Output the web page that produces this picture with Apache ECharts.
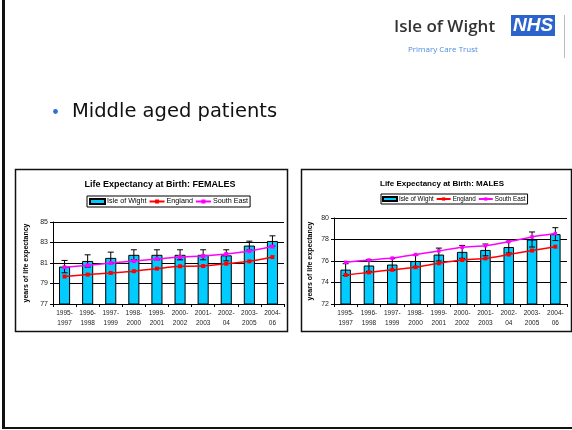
<!DOCTYPE html>
<html>
<head>
<meta charset="utf-8">
<script src="https://cdn.jsdelivr.net/npm/echarts@6/dist/echarts.min.js"></script>
<style>
html,body{margin:0;padding:0;background:#fff;}
#c{width:572px;height:430px;}
</style>
</head>
<body>
<div id="c"></div>
<script>
var categories = ['1995-\n1997','1996-\n1998','1997-\n1999','1998-\n2000','1999-\n2001','2000-\n2002','2001-\n2003','2002-\n04','2003-\n2005','2004-\n06'];

var femaleIOW = [80.65,81.2,81.5,81.8,81.8,81.8,81.8,81.75,82.7,83.15];
var femaleIOWErr = [0.6,0.6,0.56,0.49,0.49,0.49,0.49,0.54,0.43,0.5];
var femaleEngland = [79.68,79.87,80.03,80.2,80.45,80.68,80.7,80.93,81.16,81.58];
var femaleSE = [80.58,80.77,81.0,81.19,81.39,81.58,81.68,81.87,82.16,82.6];

var maleIOW = [75.2,75.58,75.67,76.0,76.6,76.85,77.03,77.3,78.0,78.5];
var maleIOWErr = [0.55,0.55,0.55,0.55,0.6,0.6,0.55,0.55,0.7,0.6];
var maleEngland = [74.7,74.94,75.18,75.42,75.79,76.09,76.24,76.6,76.97,77.33];
var maleSE = [75.88,76.09,76.27,76.6,76.94,77.27,77.42,77.8,78.24,78.55];

var femaleTicks = [77,85,2];
var maleTicks = [72,80,2];

var chart = echarts.init(document.getElementById('c'), null, {renderer:'canvas'});

function errData(vals, errs){
  return vals.map(function(v,i){ return [i, v, v-errs[i], v+errs[i]]; });
}
function errRender(params, api){
  var i = api.value(0);
  var lo = api.coord([i, api.value(2)]);
  var hi = api.coord([i, api.value(3)]);
  var cap = 3;
  var st = {stroke:'#000', lineWidth:1};
  return {type:'group', children:[
    {type:'line', shape:{x1:lo[0],y1:lo[1],x2:hi[0],y2:hi[1]}, style:st},
    {type:'line', shape:{x1:lo[0]-cap,y1:lo[1],x2:lo[0]+cap,y2:lo[1]}, style:st},
    {type:'line', shape:{x1:hi[0]-cap,y1:hi[1],x2:hi[0]+cap,y2:hi[1]}, style:st}
  ]};
}

var FF = 'Liberation Sans, Arial, sans-serif';
var legendData = [{name:'Isle of Wight', icon:'rect'}, {name:'England'}, {name:'South East'}];

function xAxisCfg(gi){
  return {
    type:'category', gridIndex:gi, data:categories, boundaryGap:true,
    axisLine:{lineStyle:{color:'#000', width:1}},
    axisTick:{show:true, length:3, lineStyle:{color:'#000'}},
    axisLabel:{fontSize:6.5, lineHeight:10, color:'#222', margin:4, fontFamily:FF, interval:0},
    splitLine:{show:false}
  };
}
function yAxisCfg(gi, t, gap){
  return {
    type:'value', gridIndex:gi, min:t[0], max:t[1], interval:t[2],
    name:'years of life expectancy', nameLocation:'middle', nameGap:gap,
    nameTextStyle:{fontSize:7, fontWeight:'bold', color:'#000', fontFamily:FF},
    axisLine:{show:true, lineStyle:{color:'#000', width:1}},
    axisTick:{show:true, length:3, lineStyle:{color:'#000'}},
    axisLabel:{fontSize:7, color:'#222', margin:5, fontFamily:FF},
    splitLine:{show:true, lineStyle:{color:'#000', width:1}}
  };
}

var option = {
  animation:false,
  backgroundColor:'#fff',
  title:[
    {text:'Life Expectancy at Birth: FEMALES', left:155, top:175, textAlign:'center',
     textStyle:{fontSize:9, fontWeight:'bold', color:'#000', fontFamily:FF}},
    {text:'Life Expectancy at Birth: MALES', left:437, top:175, textAlign:'center',
     textStyle:{fontSize:8, fontWeight:'bold', color:'#000', fontFamily:FF}}
  ],
  legend:[
    {left:87, top:196, itemWidth:15, itemHeight:5, itemGap:2, padding:[2,2,2,2],
     borderColor:'#000', borderWidth:1, data:legendData,
     textStyle:{fontSize:7.2, color:'#000', fontFamily:FF, padding:[0,0,0,-3]}},
    {left:381, top:194, itemWidth:14, itemHeight:4, itemGap:2, padding:[2,2,2,1],
     borderColor:'#000', borderWidth:1, data:legendData,
     textStyle:{fontSize:6.3, color:'#000', fontFamily:FF, padding:[0,0,0,-3]}}
  ],
  grid:[
    {left:53, top:222, width:231, height:82},
    {left:334, top:218, width:233, height:86}
  ],
  xAxis:[xAxisCfg(0), xAxisCfg(1)],
  yAxis:[yAxisCfg(0, femaleTicks, 23), yAxisCfg(1, maleTicks, 20)],
  graphic:[
    {type:'line', shape:{x1:3.5,y1:0,x2:3.5,y2:428}, style:{stroke:'#111', lineWidth:3}},
    {type:'line', shape:{x1:2,y1:428,x2:572,y2:428}, style:{stroke:'#111', lineWidth:2}},
    {type:'rect', shape:{x:15.5,y:169.5,width:272,height:162}, style:{fill:null, stroke:'#111', lineWidth:1.5}},
    {type:'rect', shape:{x:301.5,y:169.5,width:270,height:162}, style:{fill:null, stroke:'#111', lineWidth:1.5}},
    {type:'text', left:394, top:19, style:{text:'Isle of Wight', fontSize:17, fontWeight:600, fill:'#333', fontFamily:'Open Sans, sans-serif'}},
    {type:'rect', shape:{x:511,y:15,width:44,height:21}, style:{fill:'#2d64cc'}},
    {type:'text', x:533, y:26, style:{text:'NHS', fontSize:19, fontWeight:'bold', fontStyle:'italic', fill:'#fff', align:'center', verticalAlign:'middle', fontFamily:'Liberation Sans, Arial, sans-serif'}},
    {type:'text', left:408, top:46, style:{text:'Primary Care Trust', fontSize:8, fill:'#4a8de0', fontFamily:'Open Sans, sans-serif'}},
    {type:'line', shape:{x1:564.5,y1:15,x2:564.5,y2:58}, style:{stroke:'#bbb', lineWidth:1}},
    {type:'circle', shape:{cx:55.5,cy:111.5,r:2.4}, style:{fill:'#2e6fd0'}},
    {type:'text', left:72, top:102, style:{text:'Middle aged patients', fontSize:19.5, fill:'#111', fontFamily:'DejaVu Sans, sans-serif'}}
  ],
  series:[
    {name:'Isle of Wight', type:'bar', xAxisIndex:0, yAxisIndex:0, data:femaleIOW, barWidth:'48%',
     itemStyle:{color:'#00ccff', borderColor:'#000', borderWidth:1}, z:2},
    {name:'errF', type:'custom', xAxisIndex:0, yAxisIndex:0, data:errData(femaleIOW, femaleIOWErr),
     renderItem:errRender, encode:{x:0, y:[2,3]}, z:3},
    {name:'England', type:'line', xAxisIndex:0, yAxisIndex:0, data:femaleEngland, smooth:0.2,
     symbol:'rect', symbolSize:4, lineStyle:{color:'#ff0000', width:1.5}, itemStyle:{color:'#ff0000'}, z:4},
    {name:'South East', type:'line', xAxisIndex:0, yAxisIndex:0, data:femaleSE, smooth:0.2,
     symbol:'rect', symbolSize:4, lineStyle:{color:'#ff00ff', width:1.5}, itemStyle:{color:'#ff00ff'}, z:4},

    {name:'Isle of Wight', type:'bar', xAxisIndex:1, yAxisIndex:1, data:maleIOW, barWidth:'45%',
     itemStyle:{color:'#00ccff', borderColor:'#000', borderWidth:1}, z:2},
    {name:'errM', type:'custom', xAxisIndex:1, yAxisIndex:1, data:errData(maleIOW, maleIOWErr),
     renderItem:errRender, encode:{x:0, y:[2,3]}, z:3},
    {name:'England', type:'line', xAxisIndex:1, yAxisIndex:1, data:maleEngland, smooth:0.2,
     symbol:'rect', symbolSize:4, lineStyle:{color:'#ff0000', width:1.5}, itemStyle:{color:'#ff0000'}, z:4},
    {name:'South East', type:'line', xAxisIndex:1, yAxisIndex:1, data:maleSE, smooth:0.2,
     symbol:'rect', symbolSize:3.5, lineStyle:{color:'#ff00ff', width:1.5}, itemStyle:{color:'#ff00ff'}, z:4}
  ]
};
chart.setOption(option);
</script>
</body>
</html>
